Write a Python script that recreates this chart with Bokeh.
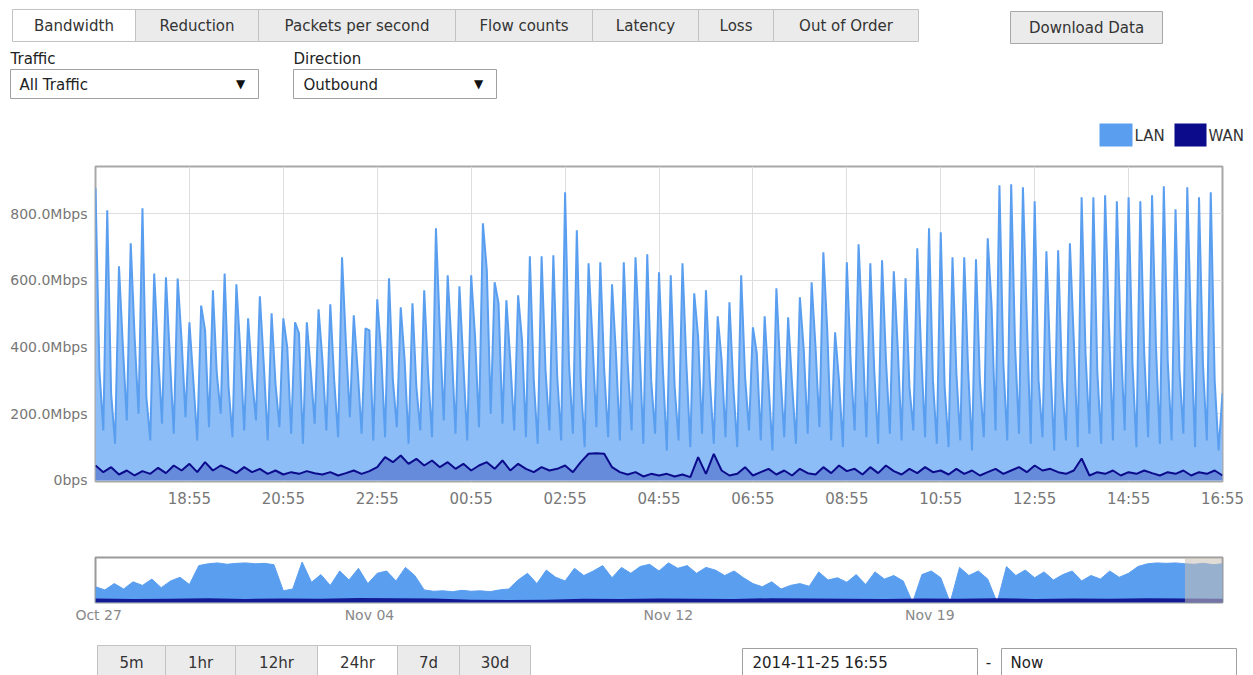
import numpy as np
import pandas as pd
from bokeh.plotting import figure
from bokeh.layouts import column
from bokeh.models import Range1d, FixedTicker, DatetimeTickFormatter, BoxAnnotation, ColumnDataSource, Plot
from bokeh.core.properties import value
from bokeh.embed import file_html
from bokeh.resources import INLINE

# ---------------- data ----------------
# LAN (outbound) in Mbps, 5-minute samples: peak / mid / low within each 15-minute slot
lan_peak = [876, 810, 642, 711, 816, 620, 609, 605, 474, 524, 570, 620,
            588, 486, 552, 501, 486, 474, 474, 513, 528, 669, 495, 456,
            543, 606, 519, 531, 570, 756, 615, 582, 615, 771, 594, 540,
            555, 672, 672, 675, 864, 750, 651, 654, 588, 654, 669, 678,
            624, 615, 651, 561, 570, 492, 534, 615, 459, 492, 576, 489,
            549, 594, 684, 444, 654, 708, 651, 660, 627, 606, 696, 756,
            744, 669, 669, 663, 726, 885, 888, 879, 837, 687, 690, 711,
            849, 849, 855, 837, 849, 837, 855, 882, 813, 879, 849, 864,
            261]
lan_mid = [330, 260, 400, 430, 250, 380, 370, 420, 300, 450, 320, 280,
           390, 310, 350, 290, 400, 441, 330, 360, 300, 410, 330, 450,
           380, 300, 360, 280, 320, 450, 400, 350, 430, 630, 531, 360,
           420, 300, 330, 310, 350, 300, 420, 330, 380, 350, 410, 300,
           330, 280, 350, 430, 300, 360, 280, 310, 380, 290, 330, 290,
           390, 400, 450, 300, 350, 440, 330, 360, 400, 280, 380, 300,
           280, 320, 330, 300, 520, 350, 400, 480, 300, 350, 300, 420,
           380, 330, 460, 420, 350, 380, 400, 360, 330, 420, 350, 300]
lan_low = [150, 110, 180, 200, 120, 170, 140, 190, 120, 160, 200, 130,
           150, 180, 120, 160, 140, 110, 170, 150, 130, 190, 140, 120,
           130, 160, 110, 150, 130, 180, 140, 120, 160, 200, 170, 150,
           130, 110, 150, 120, 140, 100, 160, 130, 120, 150, 110, 140,
           90, 120, 100, 140, 110, 130, 100, 150, 120, 90, 130, 110,
           140, 160, 120, 100, 150, 130, 110, 140, 120, 150, 130, 110,
           100, 120, 90, 130, 150, 120, 140, 110, 130, 90, 120, 100,
           140, 110, 120, 150, 100, 130, 110, 120, 140, 100, 120, 90]
# WAN in Mbps, 10-minute samples
wan = [45, 25, 40, 18, 30, 15, 28, 20, 38, 22, 45, 30, 50, 25, 55, 30, 45, 35, 22, 40,
       25, 35, 20, 30, 18, 25, 20, 28, 22, 18, 25, 15, 22, 30, 20, 28, 40,
       70, 55, 75, 50, 65, 45, 60, 40, 55, 35, 50, 30, 45, 55, 35, 60, 30, 50, 35, 25,
       40, 30, 35, 45, 25, 55, 80, 82, 80, 40, 25, 18, 25, 12, 20, 15, 20,
       12, 18, 10, 70, 20, 80, 30, 15, 20, 40, 15, 25, 35, 18, 30, 15, 35, 22, 18, 40,
       22, 45, 28, 35, 18, 40, 22, 45, 28, 18, 35, 22, 40, 25, 30, 18, 35,
       20, 30, 15, 25, 35, 20, 30, 40, 25, 45, 30, 35, 25, 20, 30, 66, 15, 25, 20, 30,
       15, 25, 20, 30, 22, 15, 25, 20, 30, 15, 25, 20, 30, 15]
# navigator (30 days), LAN every 6 hours, WAN daily
nav_lan = [350, 280, 420, 300, 460, 380, 520, 330, 480, 560, 400,
           820, 860, 880, 850, 870, 880, 860, 870, 840,
           260, 300, 900,
           450, 620, 380, 700, 500, 760, 420, 650, 700, 480, 780, 600,
           280, 250, 260, 240, 270, 250, 260, 240, 280, 300,
           500, 650, 420, 720, 560, 480, 760, 600, 700, 820, 550, 780, 650, 800,
           850, 700, 880, 760, 820, 650, 780, 720, 600, 700, 550,
           420, 350, 460, 300, 380, 420, 360,
           680, 500,
           550, 450, 620, 400, 680, 520, 600, 480,
           0, 620, 700, 550, 0,
           780, 600, 700, 520, 0,
           800, 600, 720, 550, 680, 500, 620, 700,
           480, 600, 520, 700, 560, 650,
           800, 860, 880, 870, 880, 860, 850, 870, 840, 860]
nav_wan = [90, 80, 85, 95, 80, 90, 85, 100, 95, 90, 60, 55, 60, 85, 80, 90,
           85, 80, 95, 90, 85, 80, 90, 85, 95, 80, 90, 85, 95, 90, 85]

y_tick_values = [0, 200, 400, 600, 800]
y_tick_labels = ["0bps", "200.0Mbps", "400.0Mbps", "600.0Mbps", "800.0Mbps"]
nav_tick_hours = [2, 175, 366, 533]
nav_tick_labels = ["Oct 27", "Nov 04", "Nov 12", "Nov 19"]
tabs = ["Bandwidth", "Reduction", "Packets per second", "Flow counts", "Latency", "Loss", "Out of Order"]
range_buttons = ["5m", "1hr", "12hr", "24hr", "7d", "30d"]

assert len(lan_peak) == 97 and len(lan_mid) == 96 and len(lan_low) == 96
assert len(wan) == 145 and len(nav_lan) == 121

LAN_C = "#5a9ef0"
LAN_FILL = "#8cbdf6"
WAN_C = "#0b0b8c"
FONT = "DejaVu Sans"
W = 1253
FA = {"frame_align": False} if "frame_align" in Plot.properties() else {}

start = pd.Timestamp("2014-11-24 16:55")
end = start + pd.Timedelta(hours=24)

lan = []
for k in range(96):
    lan += [lan_peak[k], lan_mid[k], lan_low[k]]
lan.append(lan_peak[96])
lan_t = (start + pd.to_timedelta(np.arange(len(lan)) * 5, unit="m")).to_numpy()
wan_t = (start + pd.to_timedelta(np.arange(len(wan)) * 10, unit="m")).to_numpy()

# ---------------- helpers ----------------
def ui_fig(h, y_top):
    f = figure(width=W, height=h, x_range=Range1d(0, W), y_range=Range1d(y_top + h, y_top),
               output_backend="svg", toolbar_location=None, min_border=0,
               x_axis_location=None, y_axis_location=None, **FA)
    f.grid.visible = False
    f.outline_line_color = None
    f.background_fill_color = "white"
    f.border_fill_color = "white"
    return f

def label(f, x, y, text, align="left", size="15px", color="#333333"):
    f.text(x=x, y=y, text=text, text_align=align, text_baseline="middle",
           text_font=value(FONT), text_font_size=size, text_color=color)

# ---------------- header ----------------
hdr = ui_fig(150, 0)
tab_edges = [12, 135, 258, 455, 592, 698, 773, 918]
hdr.quad(left=tab_edges[:-1], right=tab_edges[1:], top=9, bottom=41,
         fill_color=["#ffffff"] + ["#ebebeb"] * 6, line_color="#c2c2c2", line_width=1)
label(hdr, [(a + b) / 2 for a, b in zip(tab_edges[:-1], tab_edges[1:])], [25] * 7, tabs, align="center")
hdr.quad(left=[1010], right=[1162], top=[11], bottom=[43], fill_color="#ebebeb", line_color="#a8a8a8")
label(hdr, [1086], [27], ["Download Data"], align="center")
label(hdr, [10, 293], [58, 58], ["Traffic", "Direction"], color="#222222")
hdr.quad(left=[10, 293], right=[258, 496], top=69, bottom=98, fill_color="white", line_color="#a0a0a0")
label(hdr, [19, 303], [84, 84], ["All Traffic", "Outbound"], color="#222222")
label(hdr, [240, 478], [83, 83], ["\u25bc", "\u25bc"], align="center", size="12px", color="#111111")
hdr.quad(left=[1099, 1174], right=[1132, 1206], top=123, bottom=146,
         fill_color=[LAN_C, WAN_C], line_color=None)
label(hdr, [1134, 1208], [135, 135], ["LAN", "WAN"], size="15px", color="#333333")

# ---------------- main chart ----------------
p = figure(width=W, height=360, x_axis_type="datetime", output_backend="svg", toolbar_location=None,
           x_range=Range1d(start, end), y_range=Range1d(-3, 941),
           min_border_left=95, min_border_right=31, min_border_top=16, min_border_bottom=29, **FA)
src_lan = ColumnDataSource(dict(t=lan_t, v=lan))
src_wan = ColumnDataSource(dict(t=wan_t, v=wan))
p.varea(x="t", y1=0, y2="v", source=src_lan, fill_color=LAN_FILL, fill_alpha=1.0)
p.line(x="t", y="v", source=src_lan, line_color=LAN_C, line_width=2)
p.varea(x="t", y1=0, y2="v", source=src_wan, fill_color="#1f2fa8", fill_alpha=0.35)
p.line(x="t", y="v", source=src_wan, line_color=WAN_C, line_width=2)

x_ticks = [(start + pd.Timedelta(hours=2 * (k + 1)) - pd.Timestamp("1970-01-01")) // pd.Timedelta(milliseconds=1)
           for k in range(12)]
p.xaxis.ticker = FixedTicker(ticks=x_ticks)
p.xaxis.formatter = DatetimeTickFormatter(minutes="%H:%M", hourmin="%H:%M", hours="%H:%M", days="%H:%M")
p.yaxis.ticker = FixedTicker(ticks=y_tick_values)
p.yaxis.major_label_overrides = dict(zip(y_tick_values, y_tick_labels))
for ax in (p.xaxis[0], p.yaxis[0]):
    ax.axis_line_color = None
    ax.major_tick_line_color = None
    ax.minor_tick_line_color = None
    ax.major_tick_out = 0
    ax.major_tick_in = 0
    ax.minor_tick_out = 0
    ax.major_label_text_font = FONT
    ax.major_label_text_color = "#777777"
p.xaxis.major_label_text_font_size = "15px"
p.yaxis.major_label_text_font_size = "14px"
p.xaxis.major_label_standoff = 8
p.yaxis.major_label_standoff = 8
p.xgrid.ticker = FixedTicker(ticks=x_ticks)
p.ygrid.ticker = FixedTicker(ticks=y_tick_values)
p.grid.grid_line_color = "#dedede"
p.grid.grid_line_width = 1
p.outline_line_color = "#a8a8a8"
p.outline_line_width = 2
p.background_fill_color = "white"
p.border_fill_color = "white"

# ---------------- navigator ----------------
nav = figure(width=W, height=120, x_range=Range1d(0, 720), y_range=Range1d(0, 1000),
             output_backend="svg", toolbar_location=None, y_axis_location=None,
             min_border_left=95, min_border_right=31, min_border_top=47, min_border_bottom=28, **FA)
nav_x = np.arange(len(nav_lan)) * 6
nav.varea(x=nav_x, y1=0, y2=nav_lan, fill_color=LAN_C, fill_alpha=1.0)
nav.line(nav_x, nav_lan, line_color=LAN_C, line_width=1)
nav.varea(x=np.arange(len(nav_wan)) * 24, y1=0, y2=nav_wan, fill_color=WAN_C, fill_alpha=0.9)
nav.add_layout(BoxAnnotation(left=696, right=720, fill_color="#c9c0b2", fill_alpha=0.55, line_color=None))
nav.xaxis.ticker = FixedTicker(ticks=nav_tick_hours)
nav.xaxis.major_label_overrides = dict(zip(nav_tick_hours, nav_tick_labels))
nav.xaxis.axis_line_color = None
nav.xaxis.major_tick_line_color = None
nav.xaxis.minor_tick_line_color = None
nav.xaxis.major_tick_out = 0
nav.xaxis.major_tick_in = 0
nav.xaxis.minor_tick_out = 0
nav.xaxis.major_label_text_font = FONT
nav.xaxis.major_label_text_font_size = "14px"
nav.xaxis.major_label_text_color = "#888888"
nav.xaxis.major_label_standoff = 4
nav.grid.visible = False
nav.outline_line_color = "#9a9a9a"
nav.outline_line_width = 2
nav.background_fill_color = "white"
nav.border_fill_color = "white"

# ---------------- footer ----------------
ftr = ui_fig(45, 630)
btn_edges = [97, 165, 235, 317, 397, 459, 530]
ftr.quad(left=btn_edges[:-1], right=btn_edges[1:], top=645, bottom=690,
         fill_color=["#ebebeb", "#ebebeb", "#ebebeb", "#ffffff", "#ebebeb", "#ebebeb"],
         line_color="#c2c2c2")
label(ftr, [(a + b) / 2 for a, b in zip(btn_edges[:-1], btn_edges[1:])], [662] * 6, range_buttons, align="center")
ftr.quad(left=[742, 1001], right=[977, 1236], top=648, bottom=690, fill_color="white", line_color="#a0a0a0")
label(ftr, [752, 1010], [662, 662], ["2014-11-25 16:55", "Now"], color="#222222")
label(ftr, [988], [661], ["-"], align="center", color="#222222")

layout = column(hdr, p, nav, ftr, spacing=0)
open("out.html", "w").write(file_html(layout, INLINE))
